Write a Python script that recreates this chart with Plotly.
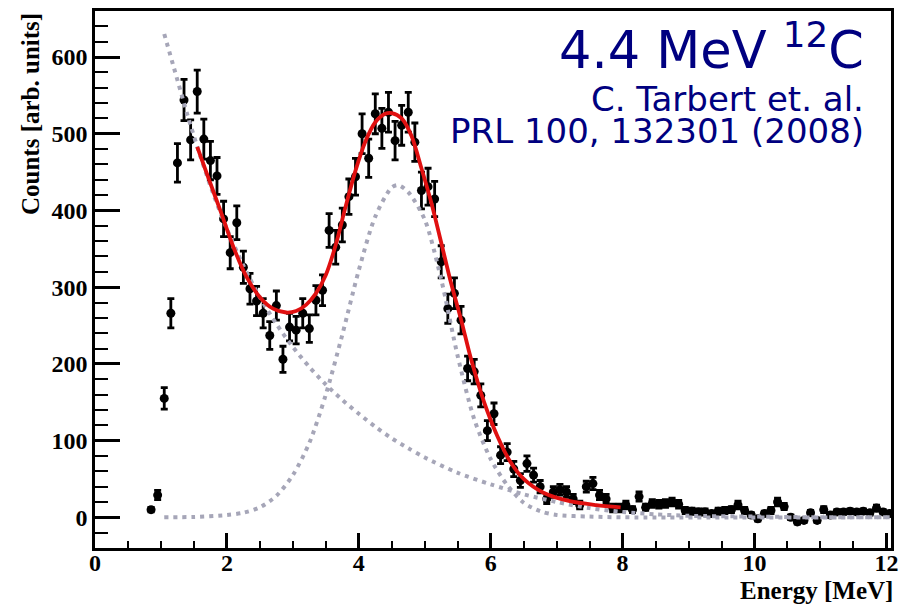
import plotly.graph_objects as go

# ---- measured spectrum (bin centres in MeV, counts, errors) ----
energy = [0.85, 0.95, 1.05, 1.15, 1.25, 1.35, 1.45, 1.55, 1.65, 1.75,
          1.85, 1.95, 2.05, 2.15, 2.25, 2.35, 2.45, 2.55, 2.65, 2.75,
          2.85, 2.95, 3.05, 3.15, 3.25, 3.35, 3.45, 3.55, 3.65, 3.75,
          3.85, 3.95, 4.05, 4.15, 4.25, 4.35, 4.45, 4.55, 4.65, 4.75,
          4.85, 4.95, 5.05, 5.15, 5.25, 5.35, 5.45, 5.55, 5.65, 5.75,
          5.85, 5.95, 6.05, 6.15, 6.25, 6.35, 6.45, 6.55, 6.65, 6.75,
          6.85, 6.95, 7.05, 7.15, 7.25, 7.35, 7.45, 7.55, 7.65, 7.75,
          7.85, 7.95, 8.05, 8.15, 8.25, 8.35, 8.45, 8.55, 8.65, 8.75,
          8.85, 8.95, 9.05, 9.15, 9.25, 9.35, 9.45, 9.55, 9.65, 9.75,
          9.85, 9.95, 10.05, 10.15, 10.25, 10.35, 10.45, 10.55, 10.65, 10.75,
          10.85, 10.95, 11.05, 11.15, 11.25, 11.35, 11.45, 11.55, 11.65, 11.75,
          11.85, 11.95, 12.05]
counts = [10, 29, 155, 266, 462, 544, 492, 555, 493, 465,
          445, 389, 345, 384, 326, 298, 282, 266, 237, 276,
          206, 248, 244, 266, 246, 283, 296, 374, 352, 381,
          418, 444, 500, 468, 526, 507, 528, 491, 511, 528,
          489, 426, 431, 415, 333, 272, 292, 257, 194, 190,
          159, 113, 135, 81, 85, 63, 48, 70, 55, 40,
          24, 33, 36, 33, 24, 16, 40, 44, 29, 24,
          12, 12, 16, 10, 27, 13, 18, 17, 18, 20,
          17, 9, 8, 7, 7, 5, 8, 9, 10, 16,
          9, 3, -2, 5, 9, 20, 14, 0, -6, -4,
          6, -4, 10, 3, 7, 7, 8, 7, 8, 6,
          12, 7, 5]
errors = [3, 6, 14, 19, 25, 27, 26, 28, 26, 25,
          24, 23, 21, 22, 21, 20, 19, 19, 18, 19,
          17, 18, 18, 19, 18, 19, 20, 22, 22, 22,
          23, 24, 26, 25, 26, 26, 26, 25, 26, 26,
          25, 24, 24, 23, 21, 19, 20, 18, 16, 16,
          15, 13, 14, 11, 11, 10, 9, 10, 9, 8,
          6, 7, 7, 7, 6, 5, 7, 8, 6, 6,
          5, 5, 5, 4, 6, 4, 5, 5, 5, 5,
          5, 4, 4, 4, 4, 3, 4, 4, 4, 5,
          4, 3, 3, 3, 4, 5, 4, 3, 3, 3,
          3, 3, 4, 3, 3, 3, 3, 3, 3, 3,
          4, 3, 3]

# ---- fit components ----
bg_energy = [1.05, 1.2, 1.4, 1.6, 1.8, 2.0, 2.25, 2.5, 2.75, 3.0, 3.25, 3.5,
             3.75, 4.0, 4.25, 4.5, 4.75, 5.0, 5.5, 6.0, 6.5, 7.0, 7.5, 8.0,
             8.5, 9.0, 10.0, 11.0, 12.05]
bg_counts = [630, 585, 525, 470, 420, 376, 328, 287, 252, 222, 196, 173,
             153, 135, 118, 103, 90, 78, 58, 43, 30, 20, 12, 7,
             4, 2, 1, 0, 0]

gaus_energy = [1.05, 1.5, 2.0, 2.25, 2.5, 2.75, 3.0, 3.25, 3.5, 3.75, 4.0,
               4.25, 4.5, 4.6, 4.75, 5.0, 5.25, 5.5, 5.75, 6.0, 6.25, 6.5,
               6.75, 7.0, 7.5, 8.0, 12.05]
gaus_counts = [0, 0.5, 3, 6, 13, 28, 55, 97, 160, 238, 322,
               392, 430, 433, 424, 388, 310, 210, 128, 76, 42, 19,
               8, 3, 1, 0, 0]

fit_energy = [1.55, 1.7, 1.9, 2.1, 2.3, 2.5, 2.7, 2.9, 3.05, 3.2, 3.35, 3.5,
              3.65, 3.8, 3.95, 4.1, 4.25, 4.4, 4.5, 4.65, 4.8, 4.95, 5.1,
              5.25, 5.4, 5.55, 5.7, 5.9, 6.1, 6.3, 6.5, 6.8, 7.2, 7.6, 7.97]
fit_counts = [483, 447, 400, 352, 313, 287, 272, 267, 269, 277, 292, 316,
              355, 405, 452, 490, 515, 526, 527, 520, 497, 455, 410,
              358, 305, 258, 207, 150, 106, 72, 50, 32, 21, 16, 13]

x_ticks = [0, 2, 4, 6, 8, 10, 12]
y_ticks = [0, 100, 200, 300, 400, 500, 600]

DOT = "#a6a6b8"
RED = "#e01010"
NAVY = "#000080"

fig = go.Figure()
fig.add_trace(go.Scatter(
    x=energy, y=counts, mode="markers",
    marker=dict(color="black", size=9),
    error_y=dict(type="data", array=errors, color="black", thickness=2.8, width=3.5),
    cliponaxis=True))
fig.add_trace(go.Scatter(
    x=gaus_energy, y=gaus_counts, mode="lines",
    line=dict(color=DOT, width=4, dash="4px,5px", shape="spline", smoothing=0.8)))
fig.add_trace(go.Scatter(
    x=bg_energy, y=bg_counts, mode="lines",
    line=dict(color=DOT, width=4, dash="4px,5px", shape="spline", smoothing=0.8)))
fig.add_trace(go.Scatter(
    x=fit_energy, y=fit_counts, mode="lines",
    line=dict(color=RED, width=3.8, shape="spline", smoothing=0.8)))

tickfont = dict(family="Liberation Serif", size=24, color="black", weight="bold")

# page body has an 8px margin, so the figure is laid out 8px smaller
fig.update_layout(
    width=899, height=599,
    margin=dict(l=87, r=16, t=3, b=59, autoexpand=False),
    paper_bgcolor="white", plot_bgcolor="white",
    showlegend=False,
    xaxis=dict(range=[0, 12.07], tickvals=x_ticks, ticktext=[str(v) for v in x_ticks],
               showline=True, linecolor="black", linewidth=2.5, mirror=True,
               ticks="inside", ticklen=15, tickwidth=2.5, tickcolor="black",
               minor=dict(dtick=0.5, tick0=0, ticks="inside", ticklen=7, tickwidth=2, tickcolor="black"),
               showgrid=False, zeroline=False, tickfont=tickfont, ticklabelstandoff=-9),
    yaxis=dict(range=[-40, 660], tickvals=y_ticks, ticktext=[str(v) for v in y_ticks],
               showline=True, linecolor="black", linewidth=2.5, mirror=True,
               ticks="inside", ticklen=25, tickwidth=2.5, tickcolor="black",
               minor=dict(dtick=20, tick0=0, ticks="inside", ticklen=13, tickwidth=2, tickcolor="black"),
               showgrid=False, zeroline=False, tickfont=tickfont, ticklabelstandoff=0),
)

fig.add_annotation(text="Counts [arb. units]", textangle=-90, showarrow=False,
                   xref="paper", yref="paper", x=0, y=1, xanchor="center", yanchor="top",
                   xshift=-65, yshift=0,
                   font=dict(family="Liberation Serif", size=25, color="black", weight="bold"))
fig.add_annotation(text="Energy [MeV]", showarrow=False,
                   xref="paper", yref="paper", x=1, y=0, xanchor="right", yanchor="middle",
                   xshift=4, yshift=-42,
                   font=dict(family="Liberation Serif", size=25, color="black", weight="bold"))

fig.add_annotation(text="4.4 MeV <sup>12</sup>C", showarrow=False,
                   xref="paper", yref="paper", x=1, y=1, xanchor="right", yanchor="middle",
                   xshift=-25, yshift=-36,
                   font=dict(family="DejaVu Sans", size=51, color=NAVY))
fig.add_annotation(text="C. Tarbert et. al.", showarrow=False,
                   xref="paper", yref="paper", x=1, y=1, xanchor="right", yanchor="middle",
                   xshift=-25, yshift=-88,
                   font=dict(family="DejaVu Sans", size=34, color=NAVY))
fig.add_annotation(text="PRL 100, 132301 (2008)", showarrow=False,
                   xref="paper", yref="paper", x=1, y=1, xanchor="right", yanchor="middle",
                   xshift=-25, yshift=-120,
                   font=dict(family="DejaVu Sans", size=34, color=NAVY))

fig.write_html("out.html")
